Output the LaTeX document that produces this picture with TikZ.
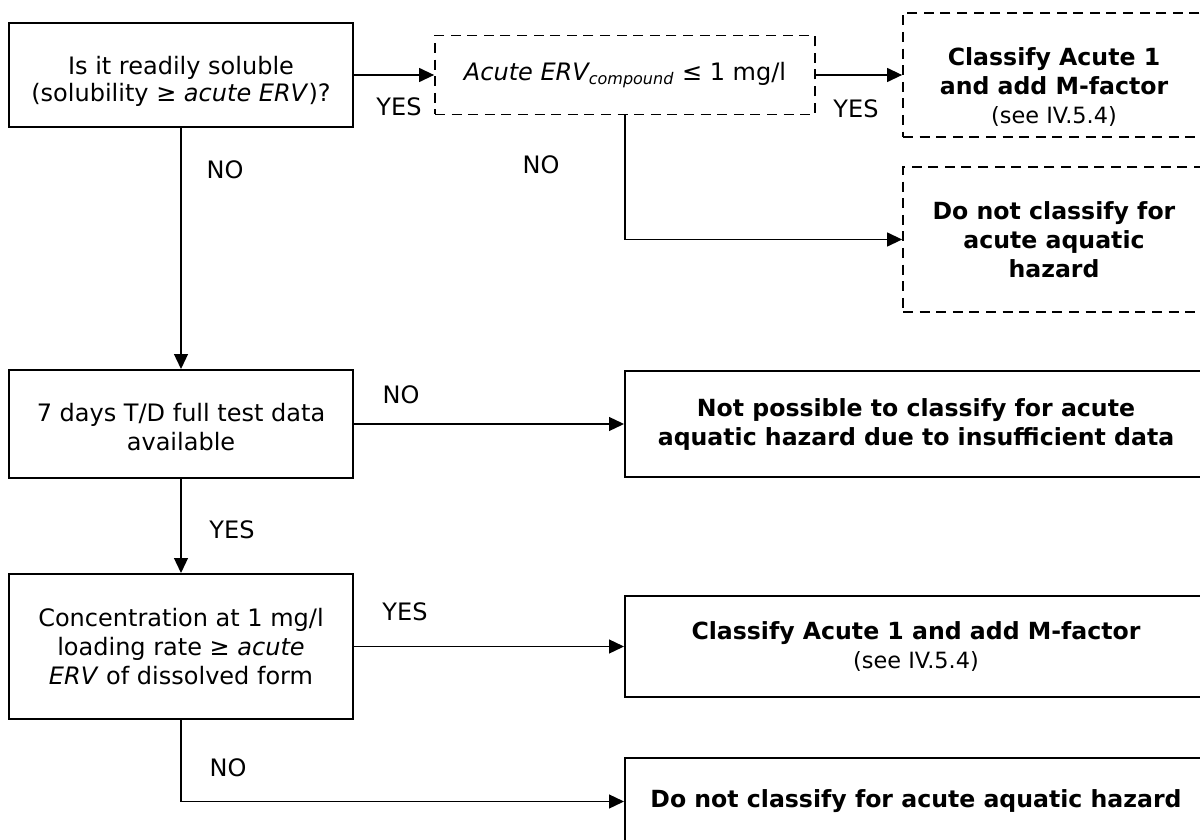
\documentclass[tikz,border=0pt]{standalone}
\usepackage{fontspec}
\setmainfont{DejaVu Sans}
\usetikzlibrary{arrows.meta}
\begin{document}
\begin{tikzpicture}[x=0.5pt,y=-0.5pt,
  box/.style={draw, line width=1pt, inner sep=0pt, align=center},
  dbox/.style={draw, line width=0.9pt, dash pattern=on 5pt off 3.3pt, inner sep=0pt, align=center},
  arr/.style={line width=0.65pt, -{Triangle[length=7.5pt,width=7pt]}},
  lab/.style={inner sep=0pt, font=\fontsize{12}{14}\selectfont},
  reg/.style={font=\fontsize{12}{14.5}\selectfont},
  bld/.style={font=\bfseries\fontsize{11.8}{14.5}\selectfont},
  sml/.style={font=\fontsize{11.8}{14.5}\selectfont},
]
\useasboundingbox (0,0) rectangle (1200,840);
\clip (0,0) rectangle (1200,840);

% boxes
\node[box, minimum width=172pt, minimum height=52pt] (A) at (181,75) {};
\node[font=\fontsize{12}{13.5}\selectfont, align=center, inner sep=0pt] (At) at (181,81)
  {Is it readily soluble\\(solubility ≥ \textit{acute ERV})?};
\node[dbox, reg, minimum width=190pt, minimum height=39.5pt] (B) at (625,75)
  {\textit{Acute ERV\textsubscript{compound}} ≤ 1 mg/l};
\node[dbox, minimum width=151pt, minimum height=62pt] (C) at (1054,75) {};
\node[sml, align=center, inner sep=0pt] (Ct) at (1054,87)
  {{\bfseries Classify Acute 1}\\{\bfseries and add M-factor}\\{\fontsize{11.2}{14.5}\selectfont (see IV.5.4)}};
\node[dbox, bld, minimum width=151pt, minimum height=72.5pt] (D) at (1054,239.5)
  {Do not classify for\\acute aquatic\\hazard};
\node[box, reg, minimum width=172pt, minimum height=54pt] (E) at (181,424) {};
\node[reg, align=center, inner sep=0pt] (Et) at (181,427)
  {7 days T/D full test data\\available};
\node[box, bld, minimum width=291pt, minimum height=53pt] (F) at (916,424)
  {Not possible to classify for acute\\aquatic hazard due to insufficient data};
\node[box, reg, minimum width=172pt, minimum height=72.5pt] (G) at (181,646.5)
  {Concentration at 1 mg/l\\loading rate ≥ \textit{acute}\\\textit{ERV} of dissolved form};
\node[box, sml, minimum width=291pt, minimum height=50.5pt] (H) at (916,646.5)
  {{\bfseries Classify Acute 1 and add M-factor}\\{\fontsize{11.2}{14.5}\selectfont (see IV.5.4)}};
\node[box, bld, minimum width=291pt, minimum height=43.5pt] (I) at (916,801.5)
  {Do not classify for acute aquatic hazard};

% labels
\node[lab] (l1) at (399,107) {YES};
\node[lab] (l2) at (856,109) {YES};
\node[lab] (l3) at (541,165) {NO};
\node[lab] (l4) at (225,170) {NO};
\node[lab] (l5) at (401,395) {NO};
\node[lab] (l6) at (232,530) {YES};
\node[lab] (l7) at (405,612) {YES};
\node[lab] (l8) at (228,768) {NO};

% connectors
\draw[arr] (A.east) -- (B.west);
\draw[arr] (B.east) -- (C.west);
\draw[arr] (B.south) |- (D.west);
\draw[arr] (A.south) -- (E.north);
\draw[arr] (E.east) -- (F.west);
\draw[arr] (E.south) -- (G.north);
\draw[arr] (G.east) -- (H.west);
\draw[arr] (G.south) |- (I.west);
\end{tikzpicture}
\end{document}
